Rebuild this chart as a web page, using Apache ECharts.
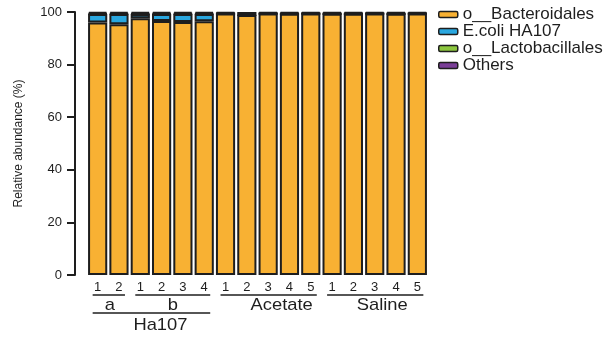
<!DOCTYPE html>
<html>
<head>
<meta charset="utf-8">
<script src="https://cdn.jsdelivr.net/npm/echarts@6/dist/echarts.min.js"></script>
<style>
  html, body { margin: 0; background: #fff; }
  #chart { width: 616px; height: 340px; }
</style>
</head>
<body>
<div id="chart"></div>
<script>
// sample numbers shown under each bar
const sampleLabels = ["1", "2", "1", "2", "3", "4", "1", "2", "3", "4", "5", "1", "2", "3", "4", "5"];
const bacteroidales = [96.0, 95.3, 97.6, 96.6, 96.2, 96.5, 99.4, 98.9, 99.4, 99.3, 99.4, 99.3, 99.3, 99.4, 99.3, 99.4];
const ecoli = [3.2, 3.9, 1.6, 2.6, 3.0, 2.7, 0, 0, 0, 0, 0, 0, 0, 0, 0, 0];
const lactobacillales = [0.2, 0.2, 0.2, 0.2, 0.2, 0.2, 0.1, 0.3, 0.1, 0.2, 0.1, 0.2, 0.2, 0.1, 0.2, 0.1];
const others = [0.6, 0.6, 0.6, 0.6, 0.6, 0.6, 0.5, 0.8, 0.5, 0.5, 0.5, 0.5, 0.5, 0.5, 0.5, 0.5];
const seriesNames = ["o__Bacteroidales", "E.coli HA107", "o__Lactobacillales", "Others"];
const yTicks = [0, 20, 40, 60, 80, 100];

// bracket groups under the x axis: [label, first index, last index, level, label nudge]
const groups = [
  ["a", 0, 1, 0, 1],
  ["b", 2, 5, 0, 0],
  ["Acetate", 6, 10, 0, 13],
  ["Saline", 11, 15, 0, 7],
  ["Ha107", 0, 5, 1, 9],
];

const FONT = "Liberation Sans";
const INK = "#1e1e1e";
const colors = ["#F8B133", "#2AA7DF", "#8CC63E", "#7A3E97"];

const chart = echarts.init(document.getElementById("chart"));

const seriesData = [bacteroidales, ecoli, lactobacillales, others];

chart.setOption({
  animation: false,
  textStyle: { fontFamily: FONT, color: INK },
  grid: { left: 87, right: 188, top: 12, bottom: 65 },
  legend: {
    orient: "vertical",
    left: 438,
    top: 6,
    padding: 0,
    itemGap: 0,
    itemWidth: 19,
    itemHeight: 6,
    icon: "roundRect",
    itemStyle: { borderColor: INK, borderWidth: 1.5 },
    textStyle: { fontFamily: FONT, fontSize: 17, lineHeight: 17, color: INK },
    data: seriesNames,
  },
  xAxis: {
    type: "category",
    data: sampleLabels,
    axisLine: { show: false },
    axisTick: { show: false },
    axisLabel: { fontSize: 13, color: INK, margin: 6, interval: 0 },
  },
  yAxis: {
    type: "value",
    min: 0,
    max: 100,
    interval: 20,
    offset: 12,
    name: "Relative abundance (%)",
    nameLocation: "middle",
    nameGap: 50,
    nameTextStyle: { fontSize: 12, color: INK },
    axisLine: { show: true, lineStyle: { color: INK, width: 2 } },
    axisTick: { show: true, length: 8, lineStyle: { color: INK, width: 2 } },
    axisLabel: {
      fontSize: 13,
      color: INK,
      margin: 13,
      formatter: (v) => (yTicks.includes(v) ? String(v) : ""),
    },
    splitLine: { show: false },
  },
  series: seriesNames.map((name, i) => ({
    name,
    type: "bar",
    stack: "total",
    barCategoryGap: "10%",
    data: seriesData[i],
    itemStyle: { color: colors[i], borderColor: INK, borderWidth: 2 },
  })),
});

// draw the group brackets from the axis scale
function drawGroups() {
  const bottom = chart.convertToPixel({ yAxisIndex: 0 }, 0);
  const elements = [];
  groups.forEach(([label, from, to, level, nudge]) => {
    const x0 = chart.convertToPixel({ xAxisIndex: 0 }, from) - 5;
    const x1 = chart.convertToPixel({ xAxisIndex: 0 }, to) + 6;
    const lineY = bottom + 20 + level * 18;
    elements.push({
      type: "line",
      shape: { x1: x0, y1: lineY, x2: x1, y2: lineY },
      style: { stroke: INK, lineWidth: 1.5 },
    });
    elements.push({
      type: "text",
      x: (x0 + x1) / 2 + nudge,
      y: lineY + 10 + level * 2,
      scaleX: 1.08,
      style: {
        text: label,
        fontFamily: FONT,
        fontSize: 17,
        fill: INK,
        align: "center",
        verticalAlign: "middle",
      },
    });
  });
  chart.setOption({ graphic: elements });
}
drawGroups();
</script>
</body>
</html>
